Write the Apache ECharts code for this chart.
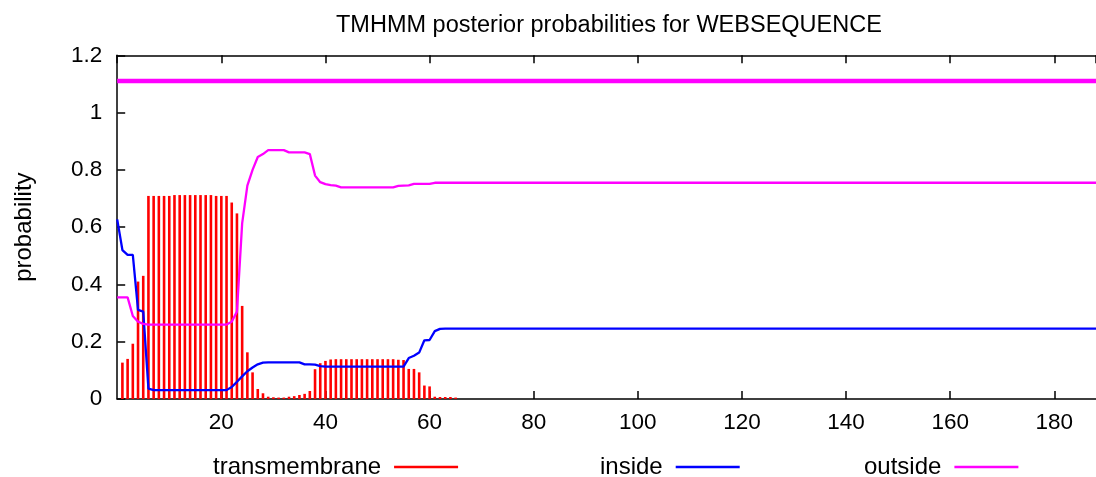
<!DOCTYPE html>
<html>
<head>
<meta charset="utf-8">
<title>TMHMM posterior probabilities</title>
<script src="https://cdn.jsdelivr.net/npm/echarts@6/dist/echarts.min.js"></script>
<style>
  html, body { margin: 0; padding: 0; background: #fff; }
  #chart { width: 1096px; height: 477px; }
</style>
</head>
<body>
<div id="chart"></div>
<script>
// residue numbering of the first entry in each array
var TM_START = 1;
var LINE_START = 0;

// transmembrane posterior, residues 1..65
var transmembrane = [
  0.127, 0.14, 0.193, 0.41, 0.43,
  0.709, 0.709, 0.709, 0.709, 0.709,
  0.712, 0.712, 0.712, 0.712, 0.712, 0.712, 0.712, 0.712,
  0.709, 0.709, 0.709,
  0.686, 0.648, 0.325, 0.163, 0.093, 0.035, 0.02, 0.008, 0.006,
  0.005, 0.005, 0.008, 0.01, 0.014, 0.018, 0.028,
  0.104, 0.125, 0.133, 0.138,
  0.139, 0.139, 0.139, 0.139, 0.139, 0.139, 0.139, 0.139, 0.139, 0.139, 0.139, 0.139,
  0.137, 0.136, 0.105, 0.105, 0.093, 0.047, 0.044,
  0.008, 0.007, 0.007, 0.007, 0.005
];

// inside posterior, residues 0..188
var inside = [
  0.627, 0.52, 0.503, 0.503, 0.311, 0.305, 0.036,
  0.031, 0.031, 0.031, 0.031, 0.031, 0.031, 0.031, 0.031, 0.031, 0.031, 0.031, 0.031, 0.031, 0.031, 0.031,
  0.042, 0.06, 0.079, 0.097, 0.11, 0.121, 0.127,
  0.128, 0.128, 0.128, 0.128, 0.128, 0.128, 0.128,
  0.121, 0.121, 0.12, 0.115,
  0.113, 0.113, 0.113, 0.113, 0.113, 0.113, 0.113, 0.113, 0.113, 0.113, 0.113, 0.113, 0.113, 0.113, 0.113, 0.113,
  0.143, 0.151, 0.162, 0.205, 0.206, 0.237, 0.245,
  0.246, 0.246, 0.246, 0.246, 0.246, 0.246, 0.246, 0.246, 0.246, 0.246, 0.246, 0.246, 0.246, 0.246, 0.246, 0.246, 0.246, 0.246, 0.246, 0.246, 0.246, 0.246, 0.246, 0.246, 0.246,
  0.246, 0.246, 0.246, 0.246, 0.246, 0.246, 0.246, 0.246, 0.246, 0.246, 0.246, 0.246, 0.246, 0.246, 0.246, 0.246, 0.246, 0.246, 0.246, 0.246, 0.246, 0.246, 0.246, 0.246, 0.246,
  0.246, 0.246, 0.246, 0.246, 0.246, 0.246, 0.246, 0.246, 0.246, 0.246, 0.246, 0.246, 0.246, 0.246, 0.246, 0.246, 0.246, 0.246, 0.246, 0.246, 0.246, 0.246, 0.246, 0.246, 0.246,
  0.246, 0.246, 0.246, 0.246, 0.246, 0.246, 0.246, 0.246, 0.246, 0.246, 0.246, 0.246, 0.246, 0.246, 0.246, 0.246, 0.246, 0.246, 0.246, 0.246, 0.246, 0.246, 0.246, 0.246, 0.246,
  0.246, 0.246, 0.246, 0.246, 0.246, 0.246, 0.246, 0.246, 0.246, 0.246, 0.246, 0.246, 0.246, 0.246, 0.246, 0.246, 0.246, 0.246, 0.246, 0.246, 0.246, 0.246, 0.246, 0.246, 0.246,
  0.246
];

// outside posterior, residues 0..188
var outside = [
  0.355, 0.355, 0.355, 0.29, 0.27, 0.262,
  0.26, 0.26, 0.26, 0.26, 0.26, 0.26, 0.26, 0.26, 0.26, 0.26, 0.26, 0.26, 0.26, 0.26, 0.26, 0.26,
  0.27, 0.305, 0.613, 0.745, 0.8, 0.845, 0.855,
  0.869, 0.869, 0.869, 0.869,
  0.861, 0.861, 0.861, 0.861,
  0.855, 0.78, 0.757, 0.75, 0.747, 0.745,
  0.739, 0.739, 0.739, 0.739, 0.739, 0.739, 0.739, 0.739, 0.739, 0.739, 0.739,
  0.744, 0.745, 0.746, 0.751, 0.751, 0.751, 0.751,
  0.755, 0.755, 0.755, 0.755, 0.755, 0.755, 0.755, 0.755, 0.755, 0.755, 0.755, 0.755, 0.755, 0.755, 0.755, 0.755, 0.755, 0.755, 0.755, 0.755, 0.755, 0.755, 0.755, 0.755, 0.755,
  0.755, 0.755, 0.755, 0.755, 0.755, 0.755, 0.755, 0.755, 0.755, 0.755, 0.755, 0.755, 0.755, 0.755, 0.755, 0.755, 0.755, 0.755, 0.755, 0.755, 0.755, 0.755, 0.755, 0.755, 0.755,
  0.755, 0.755, 0.755, 0.755, 0.755, 0.755, 0.755, 0.755, 0.755, 0.755, 0.755, 0.755, 0.755, 0.755, 0.755, 0.755, 0.755, 0.755, 0.755, 0.755, 0.755, 0.755, 0.755, 0.755, 0.755,
  0.755, 0.755, 0.755, 0.755, 0.755, 0.755, 0.755, 0.755, 0.755, 0.755, 0.755, 0.755, 0.755, 0.755, 0.755, 0.755, 0.755, 0.755, 0.755, 0.755, 0.755, 0.755, 0.755, 0.755, 0.755,
  0.755, 0.755, 0.755, 0.755, 0.755, 0.755, 0.755, 0.755, 0.755, 0.755, 0.755, 0.755, 0.755, 0.755, 0.755, 0.755, 0.755, 0.755, 0.755, 0.755, 0.755, 0.755, 0.755, 0.755, 0.755,
  0.755, 0.755, 0.755
];

// predicted topology bar drawn above the curves: whole sequence outside
var outsideSegment = [0, 188.5];
var TOPOLOGY_Y = 1.11;

var FONT = '"Liberation Sans", Arial, Helvetica, sans-serif';
var RED = '#ff0000', BLUE = '#0000ff', MAGENTA = '#ff00ff';

function toPoints(values, start) {
  return values.map(function (v, i) { return [start + i, v]; });
}

var chart = echarts.init(document.getElementById('chart'), null, { renderer: 'canvas' });

function legendItem(name, left) {
  return {
    data: [name],
    left: left,
    top: 450,
    orient: 'horizontal',
    align: 'right',
    icon: 'rect',
    itemWidth: 64,
    itemHeight: 2.5,
    selectedMode: false,
    textStyle: { fontFamily: FONT, fontSize: 24, color: '#000', padding: [0, 8, 0, 0] }
  };
}

var xCommon = {
  type: 'value',
  min: 0,
  max: 188,
  interval: 20,
  splitLine: { show: false },
  axisLine: { show: true, onZero: false, lineStyle: { color: '#000', width: 1.5 } },
  axisTick: { show: true, inside: true, length: 8, lineStyle: { color: '#000', width: 1.5 } }
};

var option = {
  animation: false,
  backgroundColor: '#fff',
  title: {
    text: 'TMHMM posterior probabilities for WEBSEQUENCE',
    left: 331,
    top: 9,
    textStyle: { fontFamily: FONT, fontSize: 23.5, fontWeight: 'normal', color: '#000' }
  },
  legend: [
    legendItem('transmembrane', 208),
    legendItem('inside', 595),
    legendItem('outside', 859)
  ],
  grid: { left: 117.2, right: -2, top: 55.3, bottom: 78 },
  xAxis: [
    Object.assign({}, xCommon, {
      position: 'bottom',
      axisLabel: {
        showMinLabel: false, showMaxLabel: false, margin: 12,
        fontFamily: FONT, fontSize: 22.5, color: '#000'
      }
    }),
    Object.assign({}, xCommon, {
      position: 'top',
      axisLabel: { show: false }
    })
  ],
  yAxis: {
    type: 'value',
    min: 0,
    max: 1.2,
    interval: 0.2,
    name: 'probability',
    nameLocation: 'middle',
    nameGap: 81,
    nameTextStyle: { fontFamily: FONT, fontSize: 24, color: '#000' },
    splitLine: { show: false },
    axisLine: { show: true, lineStyle: { color: '#000', width: 1.5 } },
    axisTick: { show: true, inside: true, length: 8, lineStyle: { color: '#000', width: 1.5 } },
    axisLabel: { margin: 15, fontFamily: FONT, fontSize: 22.5, color: '#000' }
  },
  series: [
    {
      name: 'transmembrane',
      type: 'bar',
      xAxisIndex: 0,
      barWidth: 2.6,
      itemStyle: { color: RED },
      data: toPoints(transmembrane, TM_START)
    },
    {
      name: 'inside',
      type: 'line',
      symbol: 'none',
      clip: true,
      lineStyle: { color: BLUE, width: 2.3 },
      itemStyle: { color: BLUE },
      data: toPoints(inside, LINE_START)
    },
    {
      name: 'outside',
      type: 'line',
      symbol: 'none',
      clip: true,
      lineStyle: { color: MAGENTA, width: 2.3 },
      itemStyle: { color: MAGENTA },
      data: toPoints(outside, LINE_START)
    },
    {
      name: 'topology',
      type: 'line',
      symbol: 'none',
      clip: true,
      lineStyle: { color: MAGENTA, width: 4.5 },
      data: outsideSegment.map(function (x) { return [x, TOPOLOGY_Y]; })
    }
  ]
};

chart.setOption(option);
</script>
</body>
</html>
